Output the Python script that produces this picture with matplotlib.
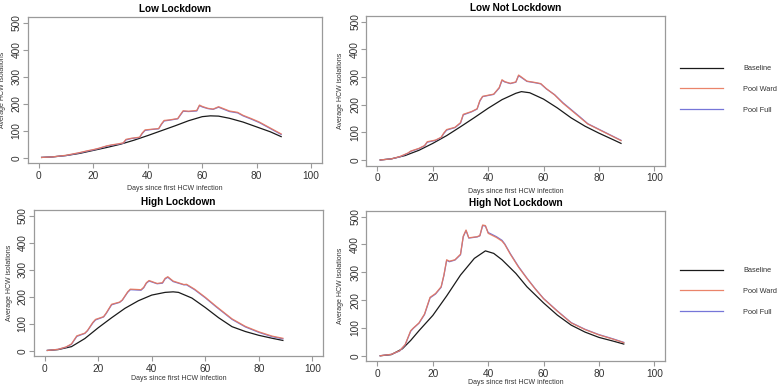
#!/usr/bin/env python3
"""
HCW isolations under pooled testing: four scenarios
"""

import matplotlib
matplotlib.use("Agg")
import matplotlib.pyplot as plt

plt.rcParams['font.family'] = ['Liberation Sans', 'DejaVu Sans']

# ---- Low Lockdown ----
ll_days_base = [1, 5, 10, 15, 20, 25, 30, 35, 40, 45, 50, 55, 60, 63, 66, 70, 75, 80, 85, 89]
ll_base = [1, 3, 8, 16, 27, 38, 50, 65, 82, 100, 118, 137, 152, 155, 154, 146, 132, 114, 96, 78]
ll_days_pool = [1, 5, 10, 15, 18, 20, 22, 25, 27, 29, 31, 32, 34, 37, 38, 39, 41, 44, 45, 46,
                48, 51, 52, 53, 55, 58, 59, 60, 62, 64, 66, 67, 70, 73, 75, 78, 81, 85, 89]
ll_ward = [1, 3, 9, 19, 26, 30, 35, 44, 48, 51, 55, 68, 72, 76, 92, 103, 105, 108, 125, 138,
           140, 145, 160, 174, 172, 175, 195, 190, 183, 180, 189, 185, 173, 168, 157, 145, 132, 110, 88]
ll_full = [1, 3, 8, 18, 25, 29, 34, 43, 47, 50, 54, 66, 71, 75, 90, 101, 104, 107, 123, 136,
           139, 144, 158, 172, 171, 173, 193, 188, 182, 179, 187, 183, 171, 166, 155, 143, 130, 108, 86]

# ---- Low Not Lockdown ----
lnl_days_base = [1, 5, 10, 15, 20, 25, 30, 35, 40, 45, 50, 52, 55, 60, 65, 70, 75, 80, 85, 88]
lnl_base = [0, 4, 16, 35, 60, 88, 120, 153, 187, 218, 241, 247, 243, 220, 188, 152, 122, 97, 74, 60]
lnl_days_pool = [1, 5, 8, 11, 12, 15, 17, 18, 21, 23, 24, 25, 28, 30, 31, 34, 36, 37, 38, 42,
                 44, 45, 46, 48, 50, 51, 52, 54, 57, 59, 61, 64, 67, 70, 73, 76, 80, 84, 88]
lnl_ward = [0, 4, 12, 25, 32, 42, 52, 66, 72, 82, 98, 110, 118, 135, 165, 175, 185, 215, 230, 238,
            262, 290, 283, 277, 282, 307, 300, 285, 280, 276, 258, 235, 205, 180, 155, 130, 110, 90, 70]
lnl_full = [0, 4, 11, 24, 31, 41, 51, 64, 71, 81, 96, 108, 117, 133, 163, 174, 184, 213, 229, 237,
            260, 288, 282, 276, 281, 305, 298, 284, 279, 275, 257, 236, 207, 182, 157, 131, 111, 91, 71]

# ---- High Lockdown ----
hl_days_base = [1, 5, 10, 15, 20, 25, 30, 35, 40, 45, 48, 50, 55, 60, 65, 70, 75, 80, 85, 89]
hl_base = [1, 4, 15, 45, 85, 122, 157, 185, 206, 216, 218, 216, 195, 160, 122, 89, 71, 57, 46, 38]
hl_days_pool = [1, 5, 8, 10, 12, 15, 16, 18, 19, 22, 23, 25, 28, 29, 31, 32, 36, 37, 38, 39,
                42, 44, 45, 46, 48, 52, 53, 56, 60, 64, 70, 75, 80, 85, 89]
hl_ward = [1, 5, 14, 25, 55, 65, 75, 105, 116, 126, 140, 172, 180, 188, 218, 228, 226, 235, 252, 260,
           249, 252, 268, 274, 258, 245, 246, 228, 198, 165, 118, 90, 70, 54, 46]
hl_full = [1, 5, 13, 24, 53, 64, 74, 103, 114, 125, 138, 170, 179, 187, 216, 226, 224, 233, 250, 258,
           248, 250, 266, 272, 256, 244, 244, 226, 196, 163, 116, 88, 68, 52, 44]

# ---- High Not Lockdown ----
hnl_days_base = [1, 5, 9, 12, 15, 20, 25, 30, 35, 39, 42, 45, 50, 54, 60, 65, 70, 75, 80, 85, 89]
hnl_base = [0, 4, 25, 55, 90, 145, 215, 290, 350, 377, 368, 345, 296, 248, 190, 146, 110, 85, 66, 53, 42]
hnl_days_pool = [1, 5, 8, 10, 12, 13, 15, 17, 19, 21, 23, 24, 25, 26, 28, 30, 31, 32, 33, 36,
                 37, 38, 39, 40, 43, 45, 46, 48, 51, 54, 57, 60, 65, 70, 75, 80, 85, 89]
hnl_ward = [0, 5, 18, 40, 90, 100, 118, 150, 210, 224, 248, 290, 345, 340, 345, 365, 430, 452, 424, 428,
            432, 470, 468, 440, 425, 412, 400, 365, 318, 278, 240, 205, 160, 118, 94, 75, 60, 47]
hnl_full = [0, 5, 17, 39, 88, 99, 117, 148, 208, 222, 246, 288, 343, 338, 344, 363, 428, 450, 423, 427,
            431, 468, 466, 443, 428, 415, 402, 367, 320, 279, 241, 206, 161, 119, 95, 76, 61, 48]

titles = ['Low Lockdown', 'Low Not Lockdown', 'High Lockdown', 'High Not Lockdown']
legend_labels = ['Baseline', 'Pool Ward', 'Pool Full']

COL_BASE = '#1a1a1a'
COL_WARD = '#e8775a'
COL_FULL = '#7676d8'
GREY = '#9a9a9a'

W, H = 778, 387


def fig_rect(x0, y0, x1, y1):
    """像素框 -> figure 坐标"""
    return [x0 / W, 1 - y1 / H, (x1 - x0) / W, (y1 - y0) / H]


def draw_panel(ax, title, days_b, base, days_p, ward, full, xlab_y=-0.15):
    ax.plot(days_b, base, color=COL_BASE, lw=0.9, label=legend_labels[0])
    ax.plot(days_p, full, color=COL_FULL, lw=0.9, label=legend_labels[2])
    ax.plot(days_p, ward, color=COL_WARD, lw=0.9, alpha=0.9, label=legend_labels[1])

    ax.set_xlim(-4, 104)
    ax.set_ylim(-20, 520)
    ax.set_xticks([0, 20, 40, 60, 80, 100])
    ax.set_yticks([0, 100, 200, 300, 400, 500])
    for s in ax.spines.values():
        s.set_color(GREY)
        s.set_linewidth(0.9)
    ax.tick_params(direction='out', length=3.5, width=0.8, color=GREY,
                   labelcolor='#333333', labelsize=7.3, pad=2)
    ax.tick_params(axis='y', pad=1)
    for lab in ax.get_yticklabels():
        lab.set_rotation(90)
        lab.set_va('center')

    ax.set_title(title, fontsize=7.2, fontweight='bold', pad=3.5)
    ax.set_xlabel('Days since first HCW infection', fontsize=5.0, color='#333333')
    ax.set_ylabel('Average HCW isolations', fontsize=5.0, color='#333333')
    ax.xaxis.set_label_coords(0.5, xlab_y)
    ax.yaxis.set_label_coords(-0.074, 0.5)


def add_legend(fig, ax, top_px):
    h, l = ax.get_legend_handles_labels()
    order = [l.index(n) for n in legend_labels]
    leg = ax.legend([h[i] for i in order], [l[i] for i in order],
                    loc='upper left', bbox_to_anchor=(680 / W, 1 - top_px / H),
                    bbox_transform=fig.transFigure, frameon=False,
                    fontsize=5.3, handlelength=5.85, handletextpad=2.7,
                    labelspacing=1.85, borderpad=0, borderaxespad=0)
    for t in leg.get_texts():
        t.set_color('#333333')


def main():
    fig = plt.figure(figsize=(W / 100, H / 100), dpi=100)

    ax1 = fig.add_axes(fig_rect(28, 17.3, 322, 163.1))
    ax2 = fig.add_axes(fig_rect(366.4, 16.1, 665.3, 165.5))
    ax3 = fig.add_axes(fig_rect(34, 210.3, 323, 356.1))
    ax4 = fig.add_axes(fig_rect(366.4, 211.1, 665.3, 361.3))

    draw_panel(ax1, titles[0], ll_days_base, ll_base, ll_days_pool, ll_ward, ll_full)
    draw_panel(ax2, titles[1], lnl_days_base, lnl_base, lnl_days_pool, lnl_ward, lnl_full)
    draw_panel(ax3, titles[2], hl_days_base, hl_base, hl_days_pool, hl_ward, hl_full, xlab_y=-0.13)
    draw_panel(ax4, titles[3], hnl_days_base, hnl_base, hnl_days_pool, hnl_ward, hnl_full, xlab_y=-0.12)

    add_legend(fig, ax2, 65)
    add_legend(fig, ax4, 267)

    fig.savefig('out.png', dpi=100)
    plt.close(fig)


if __name__ == "__main__":
    main()
